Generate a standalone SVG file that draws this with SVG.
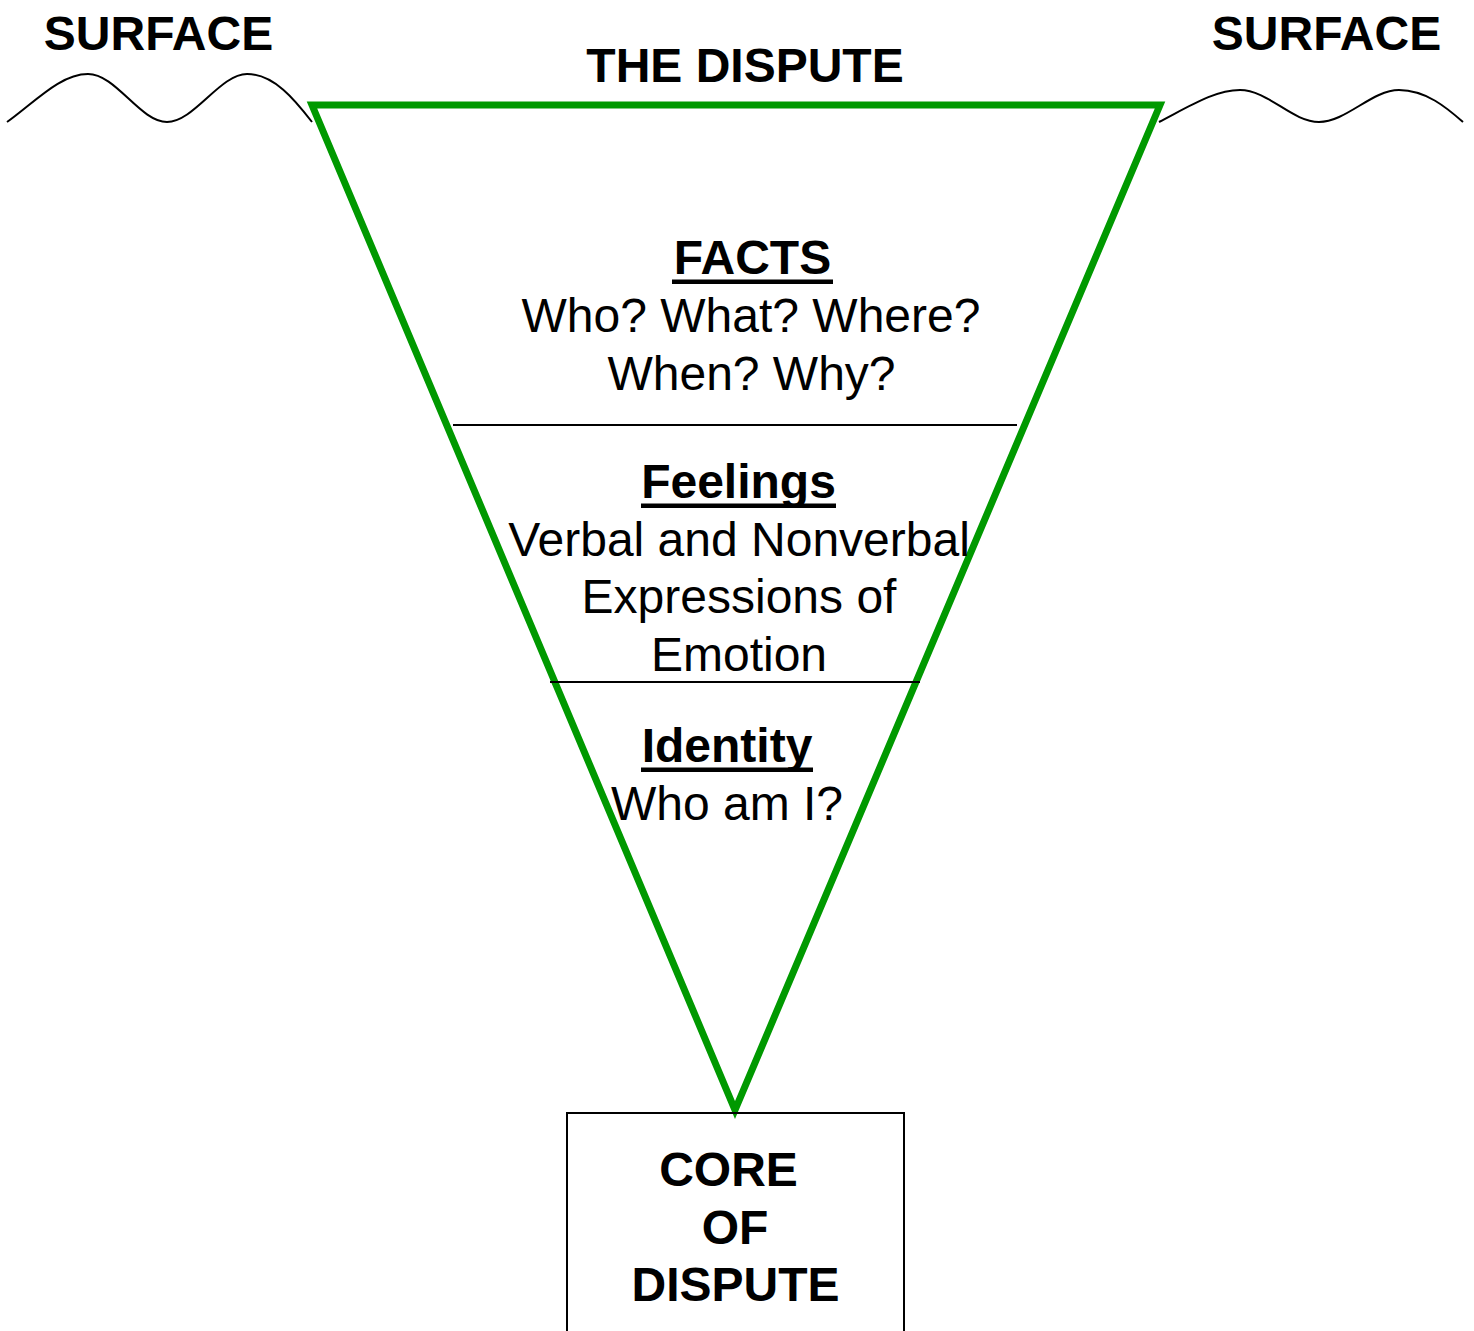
<svg xmlns="http://www.w3.org/2000/svg" width="1474" height="1331" viewBox="0 0 1474 1331">
<style>
text{font-family:"Liberation Sans",Arial,sans-serif;font-size:48px;fill:#000;text-anchor:middle}
.b{font-weight:bold}
.ul{fill:#000}
.wave{fill:none;stroke:#000;stroke-width:2}
.div{stroke:#000;stroke-width:2}
</style>
<rect width="1474" height="1331" fill="#fff"/>
<g id="surface-left">
<path class="wave" d="M7,122 C35,102 60,74 88,74 C116,74 140,122 167,122 C194,122 220,74 247,74 C274,74 295,100 312,122"/>
<text class="b" x="158.5" y="50">SURFACE</text>
</g>
<g id="surface-right">
<path class="wave" d="M1159,122 C1190,106 1215,90 1240,90 C1268,90 1292,122 1319,122 C1346,122 1372,90 1399,90 C1426,90 1447,108 1463,122"/>
<text class="b" x="1326.5" y="50">SURFACE</text>
</g>
<g id="dispute">
<polygon points="312,105 1160,105 735,1110" fill="none" stroke="#009900" stroke-width="7" stroke-linejoin="miter"/>
<text class="b" x="745" y="82">THE DISPUTE</text>
</g>
<g id="connectors">
<line class="div" x1="453" y1="425" x2="1017" y2="425"/>
<line class="div" x1="550" y1="682" x2="920" y2="682"/>
</g>
<g id="facts">
<text class="b" x="752.5" y="274">FACTS</text>
<rect class="ul" x="672" y="279.5" width="161" height="4.5"/>
<text x="751" y="332">Who? What? Where?</text>
<text x="751.5" y="390">When? Why?</text>
</g>
<g id="feelings">
<text class="b" x="738.5" y="498">Feelings</text>
<rect class="ul" x="641" y="503.5" width="195" height="4.5"/>
<text x="739" y="556">Verbal and Nonverbal</text>
<text x="739" y="613">Expressions of</text>
<text x="739" y="671">Emotion</text>
</g>
<g id="identity">
<text class="b" x="727" y="762">Identity</text>
<rect class="ul" x="641" y="767.5" width="172" height="4.5"/>
<text x="727" y="820">Who am I?</text>
</g>
<g id="core">
<rect x="567" y="1113" width="337" height="240" fill="none" stroke="#000" stroke-width="2"/>
<text class="b" x="728.5" y="1186">CORE</text>
<text class="b" x="735" y="1244">OF</text>
<text class="b" x="735.5" y="1301">DISPUTE</text>
</g>
</svg>
